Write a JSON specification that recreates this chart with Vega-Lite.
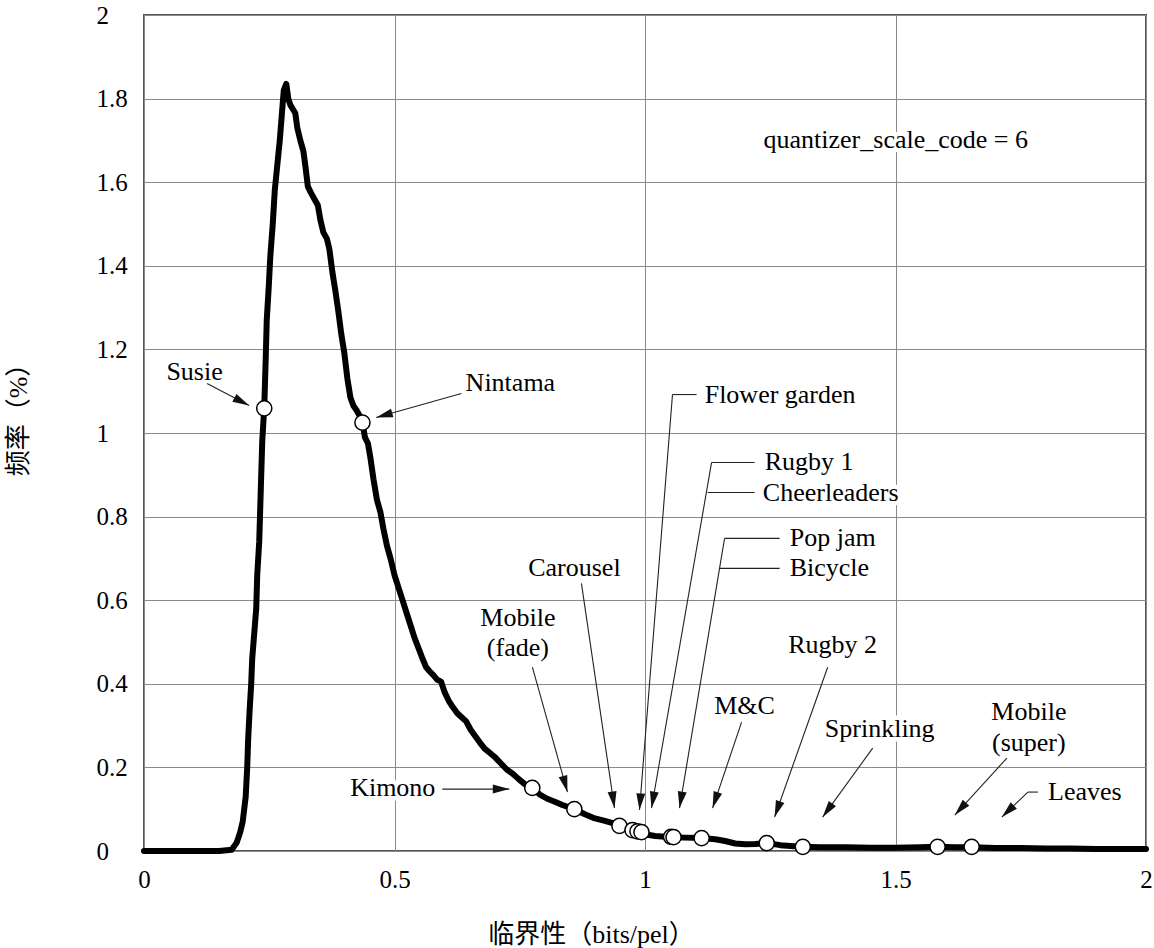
{
  "$schema": "https://vega.github.io/schema/vega-lite/v6.json",
  "width": 1002,
  "height": 836,
  "autosize": {"type": "none"},
  "padding": {"left": 144, "top": 15, "right": 8, "bottom": 97},
  "background": "white",
  "config": {
    "view": {"stroke": "#555", "strokeWidth": 2}
  },
  "datasets": {
    "curve": [
      {"x": 0, "y": 0}, {"x": 0.05, "y": 0}, {"x": 0.1, "y": 0}, {"x": 0.15, "y": 0},
      {"x": 0.175, "y": 0.003}, {"x": 0.185, "y": 0.02}, {"x": 0.192, "y": 0.045}, {"x": 0.197, "y": 0.07},
      {"x": 0.203, "y": 0.13}, {"x": 0.206, "y": 0.2}, {"x": 0.208, "y": 0.27}, {"x": 0.211, "y": 0.34},
      {"x": 0.214, "y": 0.4}, {"x": 0.216, "y": 0.46}, {"x": 0.22, "y": 0.52}, {"x": 0.224, "y": 0.58},
      {"x": 0.226, "y": 0.66}, {"x": 0.23, "y": 0.74}, {"x": 0.233, "y": 0.86}, {"x": 0.236, "y": 0.98},
      {"x": 0.24, "y": 1.06}, {"x": 0.243, "y": 1.18}, {"x": 0.245, "y": 1.27}, {"x": 0.249, "y": 1.35},
      {"x": 0.252, "y": 1.42}, {"x": 0.257, "y": 1.5}, {"x": 0.261, "y": 1.58}, {"x": 0.266, "y": 1.64},
      {"x": 0.271, "y": 1.7}, {"x": 0.275, "y": 1.76}, {"x": 0.279, "y": 1.82}, {"x": 0.284, "y": 1.835},
      {"x": 0.288, "y": 1.8}, {"x": 0.292, "y": 1.785}, {"x": 0.297, "y": 1.775}, {"x": 0.302, "y": 1.765},
      {"x": 0.306, "y": 1.73}, {"x": 0.312, "y": 1.7}, {"x": 0.318, "y": 1.675}, {"x": 0.322, "y": 1.64},
      {"x": 0.327, "y": 1.59}, {"x": 0.333, "y": 1.575}, {"x": 0.34, "y": 1.56}, {"x": 0.347, "y": 1.545},
      {"x": 0.352, "y": 1.51}, {"x": 0.358, "y": 1.48}, {"x": 0.365, "y": 1.465}, {"x": 0.37, "y": 1.44},
      {"x": 0.376, "y": 1.385}, {"x": 0.382, "y": 1.34}, {"x": 0.388, "y": 1.29}, {"x": 0.394, "y": 1.235},
      {"x": 0.4, "y": 1.19}, {"x": 0.406, "y": 1.13}, {"x": 0.412, "y": 1.085}, {"x": 0.418, "y": 1.065},
      {"x": 0.424, "y": 1.055}, {"x": 0.431, "y": 1.04}, {"x": 0.436, "y": 1.026}, {"x": 0.441, "y": 0.99},
      {"x": 0.447, "y": 0.975}, {"x": 0.452, "y": 0.94}, {"x": 0.458, "y": 0.89}, {"x": 0.465, "y": 0.84},
      {"x": 0.472, "y": 0.81}, {"x": 0.478, "y": 0.77}, {"x": 0.485, "y": 0.73}, {"x": 0.492, "y": 0.7},
      {"x": 0.5, "y": 0.66}, {"x": 0.508, "y": 0.63}, {"x": 0.516, "y": 0.6}, {"x": 0.524, "y": 0.57},
      {"x": 0.532, "y": 0.54}, {"x": 0.54, "y": 0.51}, {"x": 0.548, "y": 0.485}, {"x": 0.556, "y": 0.46},
      {"x": 0.563, "y": 0.44}, {"x": 0.57, "y": 0.43}, {"x": 0.578, "y": 0.42}, {"x": 0.585, "y": 0.41},
      {"x": 0.593, "y": 0.405}, {"x": 0.6, "y": 0.38}, {"x": 0.608, "y": 0.36}, {"x": 0.616, "y": 0.345},
      {"x": 0.625, "y": 0.33}, {"x": 0.634, "y": 0.32}, {"x": 0.643, "y": 0.31}, {"x": 0.652, "y": 0.29},
      {"x": 0.661, "y": 0.275}, {"x": 0.67, "y": 0.26}, {"x": 0.68, "y": 0.245}, {"x": 0.69, "y": 0.235},
      {"x": 0.7, "y": 0.225}, {"x": 0.712, "y": 0.21}, {"x": 0.724, "y": 0.195}, {"x": 0.736, "y": 0.185},
      {"x": 0.748, "y": 0.172}, {"x": 0.76, "y": 0.16}, {"x": 0.775, "y": 0.151}, {"x": 0.79, "y": 0.135},
      {"x": 0.805, "y": 0.125}, {"x": 0.82, "y": 0.118}, {"x": 0.835, "y": 0.11}, {"x": 0.859, "y": 0.1},
      {"x": 0.88, "y": 0.088}, {"x": 0.9, "y": 0.078}, {"x": 0.92, "y": 0.072}, {"x": 0.949, "y": 0.062},
      {"x": 0.962, "y": 0.056}, {"x": 0.975, "y": 0.05}, {"x": 0.99, "y": 0.046}, {"x": 1.0, "y": 0.04},
      {"x": 1.02, "y": 0.036}, {"x": 1.04, "y": 0.034}, {"x": 1.055, "y": 0.033}, {"x": 1.08, "y": 0.032},
      {"x": 1.113, "y": 0.031}, {"x": 1.14, "y": 0.028}, {"x": 1.16, "y": 0.024}, {"x": 1.18, "y": 0.018},
      {"x": 1.2, "y": 0.016}, {"x": 1.22, "y": 0.017}, {"x": 1.243, "y": 0.019}, {"x": 1.27, "y": 0.014},
      {"x": 1.29, "y": 0.012}, {"x": 1.315, "y": 0.01}, {"x": 1.35, "y": 0.009}, {"x": 1.4, "y": 0.009},
      {"x": 1.45, "y": 0.008}, {"x": 1.5, "y": 0.008}, {"x": 1.55, "y": 0.009}, {"x": 1.584, "y": 0.01},
      {"x": 1.62, "y": 0.009}, {"x": 1.652, "y": 0.009}, {"x": 1.7, "y": 0.007}, {"x": 1.75, "y": 0.007},
      {"x": 1.8, "y": 0.006}, {"x": 1.85, "y": 0.006}, {"x": 1.9, "y": 0.005}, {"x": 1.95, "y": 0.005},
      {"x": 2.0, "y": 0.005}
    ],
    "markers": [
      {"name": "Susie", "x": 0.24, "y": 1.059},
      {"name": "Nintama", "x": 0.436, "y": 1.025},
      {"name": "Kimono", "x": 0.775, "y": 0.151},
      {"name": "Mobile (fade)", "x": 0.859, "y": 0.1},
      {"name": "Carousel", "x": 0.949, "y": 0.06},
      {"name": "Flower garden", "x": 0.975, "y": 0.05},
      {"name": "Rugby 1", "x": 0.985, "y": 0.047},
      {"name": "Cheerleaders", "x": 0.993, "y": 0.045},
      {"name": "Pop jam", "x": 1.052, "y": 0.034},
      {"name": "Bicycle", "x": 1.057, "y": 0.033},
      {"name": "M&C", "x": 1.113, "y": 0.031},
      {"name": "Rugby 2", "x": 1.243, "y": 0.019},
      {"name": "Sprinkling", "x": 1.315, "y": 0.01},
      {"name": "Mobile (super)", "x": 1.584, "y": 0.01},
      {"name": "Leaves", "x": 1.652, "y": 0.01}
    ],
    "arrows": [
      {"name": "Susie", "x1": 0.1259, "y1": 1.1183, "x2": 0.2098, "y2": 1.0657, "tip": true},
      {"name": "Nintama", "x1": 0.6334, "y1": 1.0944, "x2": 0.4635, "y2": 1.037, "tip": true},
      {"name": "Kimono", "x1": 0.5954, "y1": 0.1481, "x2": 0.7293, "y2": 0.1481, "tip": true},
      {"name": "Mobile (fade)", "x1": 0.7752, "y1": 0.4397, "x2": 0.8452, "y2": 0.141, "tip": true},
      {"name": "Carousel", "x1": 0.8731, "y1": 0.6404, "x2": 0.9391, "y2": 0.1027, "tip": true},
      {"name": "Flower garden", "x1": 1.1029, "y1": 1.092, "x2": 1.0549, "y2": 1.092, "tip": false},
      {"name": "Flower garden", "x1": 1.0549, "y1": 1.092, "x2": 0.989, "y2": 0.098, "tip": true},
      {"name": "Rugby 1", "x1": 1.2188, "y1": 0.9295, "x2": 1.1329, "y2": 0.9295, "tip": false},
      {"name": "Rugby 1", "x1": 1.1329, "y1": 0.9295, "x2": 1.013, "y2": 0.1027, "tip": true},
      {"name": "Cheerleaders", "x1": 1.2188, "y1": 0.8578, "x2": 1.1249, "y2": 0.8578, "tip": false},
      {"name": "Pop jam", "x1": 1.2687, "y1": 0.7479, "x2": 1.1588, "y2": 0.7479, "tip": false},
      {"name": "Pop jam", "x1": 1.1588, "y1": 0.7479, "x2": 1.0689, "y2": 0.1027, "tip": true},
      {"name": "Bicycle", "x1": 1.2687, "y1": 0.6762, "x2": 1.1489, "y2": 0.6762, "tip": false},
      {"name": "M&C", "x1": 1.1928, "y1": 0.3082, "x2": 1.1349, "y2": 0.1027, "tip": true},
      {"name": "Rugby 2", "x1": 1.3646, "y1": 0.4397, "x2": 1.2587, "y2": 0.0812, "tip": true},
      {"name": "Sprinkling", "x1": 1.4545, "y1": 0.2461, "x2": 1.3546, "y2": 0.0812, "tip": true},
      {"name": "Mobile (super)", "x1": 1.7223, "y1": 0.2222, "x2": 1.6184, "y2": 0.086, "tip": true},
      {"name": "Leaves", "x1": 1.7842, "y1": 0.141, "x2": 1.7642, "y2": 0.141, "tip": false},
      {"name": "Leaves", "x1": 1.7642, "y1": 0.141, "x2": 1.7123, "y2": 0.0812, "tip": true}
    ],
    "labels": [
      {"label": "Susie", "x": 0.1009, "y": 1.147},
      {"label": "Nintama", "x": 0.7313, "y": 1.1207},
      {"label": "Flower garden", "x": 1.2697, "y": 1.092},
      {"label": "Rugby 1", "x": 1.3277, "y": 0.9295},
      {"label": "Cheerleaders", "x": 1.3706, "y": 0.8554},
      {"label": "Pop jam", "x": 1.3746, "y": 0.7479},
      {"label": "Bicycle", "x": 1.3681, "y": 0.6762},
      {"label": "Carousel", "x": 0.8591, "y": 0.6762},
      {"label": "Mobile", "x": 0.7463, "y": 0.5581},
      {"label": "(fade)", "x": 0.7463, "y": 0.4851},
      {"label": "Kimono", "x": 0.4965, "y": 0.1505},
      {"label": "M&C", "x": 1.1988, "y": 0.3465},
      {"label": "Rugby 2", "x": 1.3746, "y": 0.4922},
      {"label": "Sprinkling", "x": 1.4685, "y": 0.2915},
      {"label": "Mobile", "x": 1.7662, "y": 0.3321},
      {"label": "(super)", "x": 1.7662, "y": 0.2581},
      {"label": "Leaves", "x": 1.8781, "y": 0.141},
      {"label": "quantizer_scale_code = 6", "x": 1.5005, "y": 1.7013}
    ]
  },
  "layer": [
    {
      "data": {"name": "labels"},
      "mark": {"type": "text", "font": "'Times New Roman', 'Liberation Serif', Times, serif", "fontSize": 26, "baseline": "middle", "align": "center", "stroke": "white", "strokeWidth": 9, "strokeJoin": "round", "fill": "white"},
      "encoding": {
        "x": {"field": "x", "type": "quantitative", "scale": {"domain": [0, 2], "nice": false, "zero": false},
          "axis": {
            "values": [0, 0.5, 1, 1.5, 2], "format": "~g", "grid": true, "gridColor": "#8a8a8a", "gridWidth": 1,
            "domain": false, "ticks": false, "tickSize": 0, "labelFlush": false, "labelOverlap": false,
            "labelFont": "'Times New Roman', 'Liberation Serif', Times, serif", "labelFontSize": 25, "labelColor": "#000", "labelPadding": 16,
            "title": "临界性（bits/pel）", "titleFont": "'Times New Roman', 'Liberation Serif', Times, 'Noto Sans CJK SC', serif", "titleFontSize": 26,
            "titleFontWeight": "normal", "titleColor": "#000", "titleX": 447, "titleY": 83,
            "titleAlign": "center", "titleBaseline": "middle"
          }},
        "y": {"field": "y", "type": "quantitative", "scale": {"domain": [0, 2], "nice": false, "zero": false},
          "axis": {
            "values": [0, 0.2, 0.4, 0.6, 0.8, 1, 1.2, 1.4, 1.6, 1.8, 2], "format": "~g", "grid": true,
            "gridColor": "#8a8a8a", "gridWidth": 1, "domain": false, "ticks": false, "tickSize": 0,
            "labelFlush": false, "labelOverlap": false, "labelFont": "'Times New Roman', 'Liberation Serif', Times, serif", "labelFontSize": 25,
            "labelColor": "#000", "labelAlign": "left", "labelBaseline": "middle", "labelPadding": 48,
            "title": "频率（%）", "titleFont": "'Times New Roman', 'Liberation Serif', Times, 'Noto Sans CJK SC', serif", "titleFontSize": 26,
            "titleFontWeight": "normal", "titleColor": "#000", "titleAngle": 270, "titleX": -126, "titleY": 398,
            "titleAlign": "center", "titleBaseline": "middle"
          }},
        "text": {"field": "label"}
      }
    },
    {
      "data": {"name": "curve"},
      "mark": {"type": "line", "color": "#000", "strokeWidth": 6, "strokeJoin": "round", "strokeCap": "round"},
      "encoding": {
        "x": {"field": "x", "type": "quantitative"},
        "y": {"field": "y", "type": "quantitative"}
      }
    },
    {
      "data": {"name": "arrows"},
      "mark": {"type": "rule", "color": "#222", "strokeWidth": 1.1},
      "encoding": {
        "x": {"field": "x1", "type": "quantitative"},
        "y": {"field": "y1", "type": "quantitative"},
        "x2": {"field": "x2"},
        "y2": {"field": "y2"}
      }
    },
    {
      "data": {"name": "arrows"},
      "transform": [
        {"filter": "datum.tip"},
        {"calculate": "atan2((datum.x2 - datum.x1) * 501, (datum.y2 - datum.y1) * 418) * 180 / PI", "as": "ang"}
      ],
      "mark": {"type": "point", "shape": "M0,0L0.27,1L-0.27,1Z", "filled": true, "color": "#111", "size": 1100, "opacity": 1},
      "encoding": {
        "x": {"field": "x2", "type": "quantitative"},
        "y": {"field": "y2", "type": "quantitative"},
        "angle": {"field": "ang", "type": "quantitative", "scale": null}
      }
    },
    {
      "data": {"name": "markers"},
      "mark": {"type": "point", "shape": "circle", "filled": true, "fill": "white", "stroke": "#000", "strokeWidth": 1.5, "size": 230, "opacity": 1},
      "encoding": {
        "x": {"field": "x", "type": "quantitative"},
        "y": {"field": "y", "type": "quantitative"}
      }
    },
    {
      "data": {"name": "labels"},
      "mark": {"type": "text", "font": "'Times New Roman', 'Liberation Serif', Times, serif", "fontSize": 26, "baseline": "middle", "align": "center", "color": "#000"},
      "encoding": {
        "x": {"field": "x", "type": "quantitative"},
        "y": {"field": "y", "type": "quantitative"},
        "text": {"field": "label"}
      }
    }
  ]
}
